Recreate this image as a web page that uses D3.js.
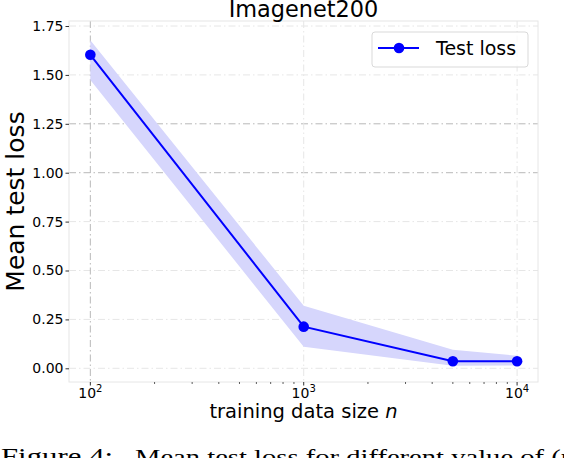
<!DOCTYPE html>
<meta charset="utf-8">
<style>
body { margin: 0; background: #fff; }
text { font-family: "DejaVu Sans", sans-serif; fill: #000; }
.grid line { stroke: #e6e6e6; stroke-width: 1; stroke-dasharray: 7,3,1.5,3; }
.grid line.strong { stroke: #b8b8b8; }
.caption { font-family: "Liberation Serif", "DejaVu Serif", serif; }
</style>
<svg width="564" height="458"></svg>
<script src="https://d3js.org/d3.v7.min.js"></script>
<script>

// data
var sizes = [100, 1000, 5000, 10000];
var meanLoss = [1.603, 0.213, 0.036, 0.036];
var upper = [1.677, 0.320, 0.095, 0.064];
var lower = [1.474, 0.110, 0.013, 0.014];
var yTicks = [0, 0.25, 0.5, 0.75, 1.0, 1.25, 1.5, 1.75];
var xTicks = [100, 1000, 10000];
var strongY = [1.0, 1.25];
var strongX = [100];

var svg = d3.select("svg"),
    margin = {top: 21, right: 26, bottom: 76, left: 69},
    width = +svg.attr("width") - margin.left - margin.right,
    height = +svg.attr("height") - margin.top - margin.bottom,
    g = svg.append("g").attr("transform", "translate(" + margin.left + "," + margin.top + ")");

var x = d3.scaleLog()
    .domain([Math.pow(10, 1.9), Math.pow(10, 4.098)])
    .range([0, width]);

var y = d3.scaleLinear()
    .domain([-0.07, 1.7756])
    .range([height, 0]);

var data = sizes.map(function(n, i) {
  return {n: n, mean: meanLoss[i], hi: upper[i], lo: lower[i]};
});

// grid
var grid = g.append("g").attr("class", "grid");
grid.selectAll(".gy")
  .data(yTicks)
  .enter().append("line")
    .attr("class", function(d) { return strongY.indexOf(d) >= 0 ? "gy strong" : "gy"; })
    .attr("x1", 0).attr("x2", width)
    .attr("y1", function(d) { return y(d); })
    .attr("y2", function(d) { return y(d); });
grid.selectAll(".gx")
  .data(xTicks)
  .enter().append("line")
    .attr("class", function(d) { return strongX.indexOf(d) >= 0 ? "gx strong" : "gx"; })
    .attr("y1", 0).attr("y2", height)
    .attr("x1", function(d) { return x(d); })
    .attr("x2", function(d) { return x(d); });

// frame
g.append("rect")
    .attr("width", width)
    .attr("height", height)
    .attr("fill", "none")
    .attr("stroke", "#e6e6e6")
    .attr("stroke-width", 1);

// band
g.append("path")
    .datum(data)
    .attr("fill", "rgb(214,214,252)")
    .attr("d", d3.area()
      .x(function(d) { return x(d.n); })
      .y0(function(d) { return y(d.lo); })
      .y1(function(d) { return y(d.hi); }));

// line + markers
g.append("path")
    .datum(data)
    .attr("fill", "none")
    .attr("stroke", "#0000ff")
    .attr("stroke-width", 2)
    .attr("d", d3.line()
      .x(function(d) { return x(d.n); })
      .y(function(d) { return y(d.mean); }));

g.selectAll(".dot")
  .data(data)
  .enter().append("circle")
    .attr("class", "dot")
    .attr("cx", function(d) { return x(d.n); })
    .attr("cy", function(d) { return y(d.mean); })
    .attr("r", 5.3)
    .attr("fill", "#0000ff");

// y axis
var yAxis = g.append("g")
    .call(d3.axisLeft(y).tickValues(yTicks).tickSize(3.5).tickPadding(2)
      .tickFormat(d3.format(".2f")));
yAxis.select(".domain").remove();
yAxis.selectAll(".tick line").attr("stroke", "#333");
yAxis.selectAll("text")
    .style("font-family", "DejaVu Sans, sans-serif")
    .style("font-size", "14px");

// x axis: minor ticks + major labels with superscript
var minor = [];
[100, 1000].forEach(function(b) {
  for (var k = 2; k <= 9; k++) minor.push(b * k);
});
var xAxis = g.append("g").attr("transform", "translate(0," + height + ")");
xAxis.selectAll(".minor")
  .data(minor)
  .enter().append("line")
    .attr("x1", function(d) { return x(d); })
    .attr("x2", function(d) { return x(d); })
    .attr("y1", 0).attr("y2", 2)
    .attr("stroke", "#333")
    .attr("stroke-width", 0.8);
xAxis.selectAll(".major")
  .data(xTicks)
  .enter().append("line")
    .attr("x1", function(d) { return x(d); })
    .attr("x2", function(d) { return x(d); })
    .attr("y1", 0).attr("y2", 3.5)
    .attr("stroke", "#333");
var xl = xAxis.selectAll(".xlabel")
  .data(xTicks)
  .enter().append("text")
    .attr("x", function(d) { return x(d); })
    .attr("y", 16)
    .attr("text-anchor", "middle")
    .style("font-size", "14px");
xl.append("tspan").text("10");
xl.append("tspan")
    .attr("dy", -6)
    .style("font-size", "10px")
    .text(function(d) { return Math.round(Math.log10(d)); });

// labels
svg.append("text")
    .attr("x", margin.left + width / 2)
    .attr("y", 17)
    .attr("text-anchor", "middle")
    .style("font-size", "22.4px")
    .text("Imagenet200");

svg.append("text")
    .attr("transform", "translate(24," + (margin.top + height / 2) + ") rotate(-90)")
    .attr("text-anchor", "middle")
    .style("font-size", "25px")
    .text("Mean test loss");

var xt = svg.append("text")
    .attr("x", margin.left + width / 2)
    .attr("y", 418)
    .attr("text-anchor", "middle")
    .style("font-size", "19.5px");
xt.append("tspan").text("training data size ");
xt.append("tspan").style("font-style", "oblique").text("n");

// legend
var lg = svg.append("g").attr("transform", "translate(372,32)");
lg.append("rect")
    .attr("width", 156)
    .attr("height", 35)
    .attr("rx", 3)
    .attr("fill", "#fff")
    .attr("fill-opacity", 0.8)
    .attr("stroke", "#d9d9d9");
lg.append("line")
    .attr("x1", 6).attr("x2", 47)
    .attr("y1", 16).attr("y2", 16)
    .attr("stroke", "#0000ff")
    .attr("stroke-width", 2);
lg.append("circle")
    .attr("cx", 27).attr("cy", 16).attr("r", 5.3)
    .attr("fill", "#0000ff");
lg.append("text")
    .attr("x", 64)
    .attr("y", 23)
    .style("font-size", "19px")
    .text("Test loss");

// caption, cut off by the page edge as in the source page
svg.append("text")
    .attr("class", "caption")
    .attr("x", 1)
    .attr("y", 464)
    .attr("textLength", 112)
    .attr("lengthAdjust", "spacingAndGlyphs")
    .style("font-size", "23px")
    .text("Figure 4:");
svg.append("text")
    .attr("class", "caption")
    .attr("x", 135)
    .attr("y", 464)
    .attr("textLength", 440)
    .attr("lengthAdjust", "spacingAndGlyphs")
    .style("font-size", "21px")
    .text("Mean test loss for different value of (n");

</script>
